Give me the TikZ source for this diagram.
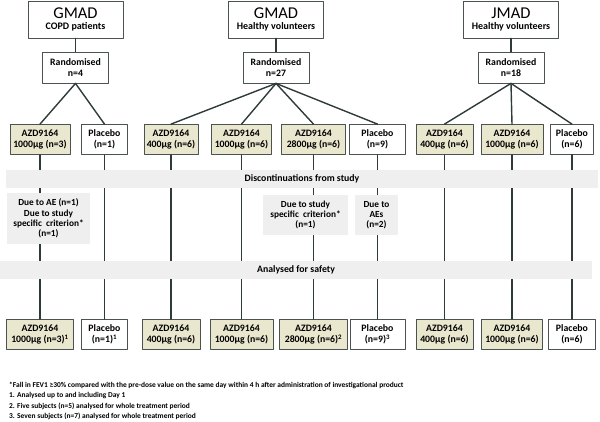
\documentclass[tikz,border=0pt]{standalone}
\usepackage{fontspec}
\setmainfont{Carlito}
\usetikzlibrary{positioning}
\definecolor{boxline}{HTML}{4A5252}
\definecolor{linkcol}{HTML}{2F3B3B}
\definecolor{drugfill}{HTML}{EAE7CF}
\definecolor{bandfill}{HTML}{EFEFEF}
\tikzset{
  armbox/.style={draw=boxline,line width=0.8pt,align=center,inner xsep=2pt,inner ysep=1.5pt,
    minimum height=30pt,font=\bfseries\fontsize{9.8}{11.5}\selectfont},
  drugbox/.style={armbox,fill=drugfill,minimum width=60pt},
  placebox/.style={armbox,fill=white,minimum width=46pt},
  titlebox/.style={draw=boxline,line width=0.8pt,fill=white,align=center,minimum width=95pt,minimum height=37pt,inner sep=1pt},
  randbox/.style={armbox,fill=white,minimum width=66pt,minimum height=31pt},
  band/.style={fill=bandfill,minimum height=18pt,inner sep=0pt,font=\bfseries\fontsize{9.8}{11}\selectfont},
  reason/.style={fill=bandfill,align=center,inner sep=1pt,font=\bfseries\fontsize{9.3}{10.2}\selectfont},
  link/.style={draw=linkcol,line width=1.4pt}
}
\newcommand{\ttl}[2]{{\fontsize{16.5}{18}\selectfont #1}\\[-1pt]{\bfseries\fontsize{10}{11}\selectfont #2}}
\begin{document}
\begin{tikzpicture}[line cap=round,line join=round,x=1pt,y=-1pt]
  \useasboundingbox (0,0) rectangle (600,421);
  % studies
  \node[titlebox] (copd) at (75.5,19.5) {\ttl{GMAD}{COPD patients}};
  \node[titlebox] (gmad) at (276,19.5) {\ttl{GMAD}{Healthy volunteers}};
  \node[titlebox] (jmad) at (511,19.5) {\ttl{JMAD}{Healthy volunteers}};
  \node[randbox] (cr) at (75.5,67.5) {Randomised\\n=4};
  \node[randbox] (gr) at (276,67.5) {Randomised\\n=27};
  \node[randbox] (jr) at (511,67.5) {Randomised\\n=18};
  % arms
  \node[drugbox] (ca) at (40,139.5) {AZD9164\\1000µg (n=3)};
  \node[placebox] (cp) at (104.5,139.5) {Placebo\\(n=1)};
  \node[drugbox,minimum width=54pt] (ga) at (171,139.5) {AZD9164\\400µg (n=6)};
  \node[drugbox] (gb) at (241.5,139.5) {AZD9164\\1000µg (n=6)};
  \node[drugbox,minimum width=64pt] (gc) at (313.5,139.5) {AZD9164\\2800µg (n=6)};
  \node[placebox,minimum width=56pt] (gp) at (377.5,139.5) {Placebo\\(n=9)};
  \node[drugbox,minimum width=57pt] (ja) at (444.5,139.5) {AZD9164\\400µg (n=6)};
  \node[drugbox,minimum width=62pt] (jb) at (512,139.5) {AZD9164\\1000µg (n=6)};
  \node[placebox,minimum width=43pt] (jp) at (572,139.5) {Placebo\\(n=6)};
  % analysed
  \node[drugbox,minimum width=67pt] (ca2) at (40,334.5) {AZD9164\\1000µg (n=3)\textsuperscript{1}};
  \node[placebox] (cp2) at (104.5,334.5) {Placebo\\(n=1)\textsuperscript{1}};
  \node[drugbox,minimum width=58pt] (ga2) at (171,334.5) {AZD9164\\400µg (n=6)};
  \node[drugbox,minimum width=63pt] (gb2) at (241.5,334.5) {AZD9164\\1000µg (n=6)};
  \node[drugbox,minimum width=68pt] (gc2) at (313.5,334.5) {AZD9164\\2800µg (n=6)\textsuperscript{2}};
  \node[placebox,minimum width=55pt] (gp2) at (377.5,334.5) {Placebo\\(n=9)\textsuperscript{3}};
  \node[drugbox,minimum width=57pt] (ja2) at (444.5,334.5) {AZD9164\\400µg (n=6)};
  \node[drugbox,minimum width=61pt] (jb2) at (512,334.5) {AZD9164\\1000µg (n=6)};
  \node[placebox,minimum width=47pt] (jp2) at (572,334.5) {Placebo\\(n=6)};
  % connectors
  \draw[link] (copd) -- (cr);
  \draw[link] (gmad) -- (gr);
  \draw[link] (jmad) -- (jr);
  \foreach \a in {ca,cp}
    \draw[link] (cr.south) -- (\a.north);
  \foreach \a in {ga,gb,gc,gp}
    \draw[link] (gr.south) -- (\a.north);
  \foreach \a in {ja,jb,jp}
    \draw[link] (jr.south) -- (\a.north);
  \foreach \a in {ca,cp,ga,gb,gc,gp,ja,jb,jp}
    \draw[link] (\a.south) -- (\a2.north);
  % bands over the lines
  \node[band,minimum width=592pt] (disc) at (302,179) {Discontinuations from study};
  \node[band,minimum width=592pt] (safe) at (296,270) {Analysed for safety};
  \node[reason,minimum width=83pt,minimum height=51pt] (r1) at (48.5,218.5) {Due to AE (n=1)\\Due to study\\specific\ \ criterion*\\(n=1)};
  \node[reason,minimum width=85pt,minimum height=40pt] (r2) at (305.5,215) {Due to study\\specific\ \ criterion*\\(n=1)};
  \node[reason,minimum width=43pt,minimum height=40pt] (r3) at (376.5,215) {Due to\\AEs\\(n=2)};
  % footnotes
  \node[anchor=north west,align=left,inner sep=0pt,font=\bfseries\fontsize{7.45}{10.3}\selectfont] (notes) at (9,382)
    {*Fall in FEV1 ≥30\% compared with the pre-dose value on the same day within 4 h after administration of investigational product\\
     1. Analysed up to and including Day 1\\
     2. Five subjects (n=5) analysed for whole treatment period\\
     3. Seven subjects (n=7) analysed for whole treatment period};
\end{tikzpicture}
\end{document}
